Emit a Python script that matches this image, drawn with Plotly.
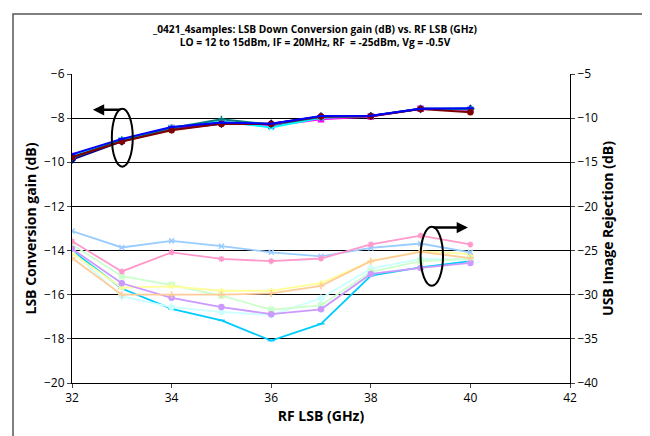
import plotly.graph_objects as go

freq = [32, 33, 34, 35, 36, 37, 38, 39, 40]

# Upper group: LSB conversion gain (dB), left axis
gain_navy    = [-9.88, -9.05, -8.50, -8.25, -8.25, -7.92, -7.90, -7.58, -7.58]
gain_magenta = [-9.72, -9.02, -8.45, -8.20, -8.35, -8.05, -7.92, -7.58, -7.62]
gain_cyan    = [-9.70, -8.98, -8.42, -8.15, -8.42, -7.98, -7.90, -7.57, -7.58]
gain_purple  = [-9.78, -9.03, -8.48, -8.22, -8.27, -7.93, -7.90, -7.58, -7.60]
gain_darkred = [-9.76, -9.06, -8.55, -8.26, -8.26, -7.93, -7.91, -7.59, -7.73]
gain_teal    = [-9.80, -8.98, -8.45, -8.05, -8.30, -7.95, -7.90, -7.58, -7.60]
gain_blue    = [-9.64, -8.94, -8.40, -8.20, -8.25, -7.90, -7.89, -7.57, -7.55]

# Lower group: USB image rejection (dB), right axis
rej_skyblue  = [-25.0, -29.3, -31.6, -32.9, -35.2, -33.3, -27.85, -26.9, -26.2]
rej_ltcyan   = [-25.1, -30.2, -31.4, -31.95, -32.3, -30.4, -27.05, -25.95, -26.0]
rej_ltgreen  = [-24.3, -27.9, -28.9, -30.1, -31.7, -31.2, -27.4, -26.2, -25.95]
rej_yellow   = [-25.3, -29.2, -29.05, -29.55, -29.55, -28.7, -26.2, -25.1, -25.4]
rej_ltblue   = [-22.8, -24.65, -23.9, -24.5, -25.2, -25.65, -24.7, -24.2, -25.2]
rej_pink     = [-23.95, -27.36, -25.2, -25.95, -26.2, -25.9, -24.3, -23.3, -24.3]
rej_lavender = [-24.8, -28.7, -30.35, -31.4, -32.2, -31.65, -27.65, -26.97, -26.4]
rej_peach    = [-25.85, -30.0, -30.0, -30.0, -29.85, -29.0, -26.2, -25.15, -25.85]

x_ticks = [32, 34, 36, 38, 40, 42]
left_ticks = [-20, -18, -16, -14, -12, -10, -8, -6]
right_ticks = [-40, -35, -30, -25, -20, -15, -10, -5]

fig = go.Figure()

upper = [
    (gain_navy, "#000080", "diamond"),
    (gain_magenta, "#FF00FF", "square"),
    (gain_cyan, "#00FFFF", "x-thin-open"),
    (gain_purple, "#800080", "asterisk-open"),
    (gain_teal, "#008080", "cross-thin-open"),
    (gain_darkred, "#800000", "circle"),
    (gain_blue, "#0000FF", "line-ew-open"),
]
for vals, col, sym in upper:
    fig.add_trace(go.Scatter(
        x=freq, y=vals, mode="lines+markers", yaxis="y",
        line=dict(color=col, width=2),
        marker=dict(symbol=sym, size=5, color=col, line=dict(color=col, width=1.5)),
        showlegend=False))

lower = [
    (rej_skyblue, "#00CCFF", "line-ew-open"),
    (rej_ltcyan, "#CCFFFF", "diamond"),
    (rej_ltgreen, "#CCFFCC", "square"),
    (rej_yellow, "#FFFF99", "triangle-up"),
    (rej_ltblue, "#99CCFF", "x-thin-open"),
    (rej_pink, "#FF99CC", "asterisk-open"),
    (rej_lavender, "#CC99FF", "circle"),
    (rej_peach, "#FFCC99", "cross-thin-open"),
]
for vals, col, sym in lower:
    fig.add_trace(go.Scatter(
        x=freq, y=vals, mode="lines+markers", yaxis="y2",
        line=dict(color=col, width=1.8),
        marker=dict(symbol=sym, size=5, color=col, line=dict(color=col, width=1.5)),
        showlegend=False))

font_family = "Open Sans, Liberation Sans, Arial, sans-serif"

# plot area in figure pixels (page is offset by 8px body margin)
L, R, T, B = 64, 562, 66, 375
W, H = 650, 436

fig.update_layout(
    width=W, height=H,
    margin=dict(l=L, r=W - R, t=T, b=H - B),
    paper_bgcolor="white", plot_bgcolor="white",
    font=dict(family=font_family, size=12, color="black"),
    title=dict(
        text="<b>_0421_4samples: LSB Down Conversion gain (dB) vs. RF LSB (GHz)<br>LO = 12 to 15dBm, IF = 20MHz, RF  = -25dBm, Vg = -0.5V</b>",
        x=307 / W, xanchor="center", y=1 - 25 / H, yanchor="middle",
        font=dict(size=10.2, family=font_family)),
    xaxis=dict(
        range=[32, 42], tickvals=x_ticks, ticks="outside", ticklen=4,
        showline=True, linecolor="black", linewidth=1, showgrid=False, zeroline=False,
        title=dict(text="<b>RF LSB (GHz)</b>", font=dict(size=14), standoff=4),
        tickfont=dict(size=12)),
    yaxis=dict(
        range=[-20, -6], tickvals=left_ticks, ticks="outside", ticklen=4,
        showline=True, linecolor="black", linewidth=1,
        showgrid=True, gridcolor="black", gridwidth=1, zeroline=False,
        title=dict(text="<b>LSB Conversion gain (dB)</b>", font=dict(size=14), standoff=4),
        tickfont=dict(size=12)),
    yaxis2=dict(
        range=[-40, -5], tickvals=right_ticks, ticks="outside", ticklen=4,
        overlaying="y", side="right",
        showline=True, linecolor="black", linewidth=1, showgrid=False, zeroline=False,
        title=dict(text="<b>USB Image Rejection (dB)</b>", font=dict(size=14), standoff=6),
        tickfont=dict(size=12)),
)

# annotation ellipses and arrows
fig.add_shape(type="circle", xref="x", yref="y", x0=32.80, x1=33.22, y0=-10.2, y1=-7.57,
              line=dict(color="black", width=2))
fig.add_shape(type="circle", xref="x", yref="y", x0=39.0, x1=39.45, y0=-15.59, y1=-12.92,
              line=dict(color="black", width=2))
fig.add_annotation(x=32.42, y=-7.62, ax=33.0, ay=-7.62, xref="x", yref="y",
                   axref="x", ayref="y", showarrow=True, arrowhead=2, arrowsize=0.9,
                   arrowwidth=2.5, arrowcolor="black", text="")
fig.add_annotation(x=39.95, y=-12.96, ax=39.23, ay=-12.96, xref="x", yref="y",
                   axref="x", ayref="y", showarrow=True, arrowhead=2, arrowsize=0.9,
                   arrowwidth=2.5, arrowcolor="black", text="")

# outer chart border
pw, ph = R - L, B - T
fig.add_shape(type="rect", xref="paper", yref="paper",
              x0=(5 - L) / pw, x1=(638 - L) / pw,
              y0=(B - 440) / ph, y1=(B - 6) / ph,
              line=dict(color="#555555", width=1.5), layer="below")

fig.write_html("out.html")
